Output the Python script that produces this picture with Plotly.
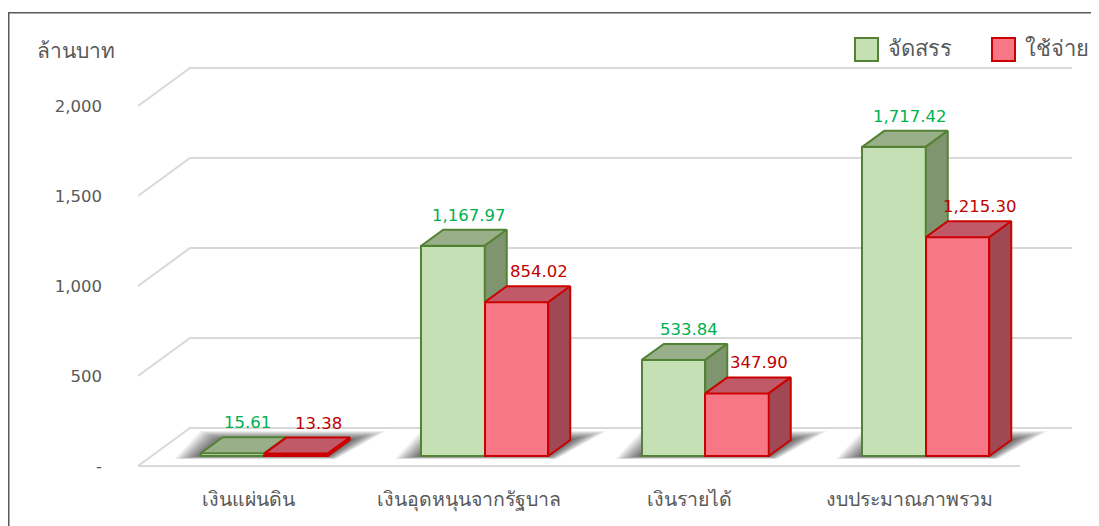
import plotly.graph_objects as go

# ---------------- data ----------------
categories = ["เงินแผ่นดิน", "เงินอุดหนุนจากรัฐบาล", "เงินรายได้", "งบประมาณภาพรวม"]
allocated = [15.61, 1167.97, 533.84, 1717.42]
spent = [13.38, 854.02, 347.90, 1215.30]
series_names = ["จัดสรร", "ใช้จ่าย"]
y_tickvals = [0, 500, 1000, 1500, 2000]
y_ticktext = ["-", "500", "1,000", "1,500", "2,000"]
y_title = "ล้านบาท"

# ---------------- style / projection ----------------
OFF = 8                       # page body margin: figure starts 8px in
W, H = 1099 - OFF, 526 - OFF  # figure size
ML, MT = 138 - OFF, 30 - OFF
MR, MB = 0, H - (480 - OFF)
PX_X = 220.5          # px per category slot
PX_Y = 0.18           # px per value unit
Y0_PX = 466 - OFF     # figure row of value 0 on the front plane
X_RANGE = [-0.5, -0.5 + (W - ML - MR) / PX_X]
Y_RANGE = [-(H - MB - Y0_PX) / PX_Y, (Y0_PX - MT) / PX_Y]

WALL_DX, WALL_DY = 52 / PX_X, 38 / PX_Y
FRONT_DX, FRONT_DY = 16 / PX_X, 10 / PX_Y
BAR_DX, BAR_DY = 22 / PX_X, 16 / PX_Y
BAR_W = 63.5 / PX_X

FONT = "Tahoma, 'DejaVu Sans', sans-serif"
NUMFONT = "'DejaVu Sans', Tahoma, sans-serif"
GRID = "#D9D9D9"
TXT = "#595959"
G_FRONT, G_TOP, G_SIDE, G_LINE, G_LABEL = "#C5E0B4", "#98AF89", "#7F9570", "#548235", "#00B050"
R_FRONT, R_TOP, R_SIDE, R_LINE, R_LABEL = "#F87787", "#C05A68", "#A04955", "#CC0000", "#C00000"

fig = go.Figure()
shapes = []
annotations = []

# ---- 3D walls: back-wall gridlines + left side-wall diagonals ----
x_left = X_RANGE[0]
x_front_right = len(categories) - 0.5
for t in y_tickvals:
    shapes.append(dict(type="path", xref="x", yref="y", layer="below",
                       path=f"M{x_left},{t} L{x_left + WALL_DX},{t + WALL_DY} L{x_front_right + WALL_DX},{t + WALL_DY}",
                       line=dict(color=GRID, width=2)))
shapes.append(dict(type="line", xref="x", yref="y", layer="below",
                   x0=x_left, y0=0, x1=x_front_right, y1=0,
                   line=dict(color=GRID, width=2)))

# ---- soft shadows on the floor under each bar pair ----
for i in range(len(categories)):
    xa = i + FRONT_DX - BAR_W
    xb = i + FRONT_DX + BAR_W
    yb = FRONT_DY
    steps = 10
    for k in range(steps):
        s = 1.0 - k / steps
        op = 0.07 + 0.02 * k / steps
        fl = xa - 26 * s / PX_X
        fr = xb + 8 * s / PX_X
        br = xb + BAR_DX + 36 * s / PX_X
        bl = xa + BAR_DX - 22 * s / PX_X
        y_front = yb - 3 * s / PX_Y
        y_back = yb + BAR_DY + 9 * s / PX_Y
        p = f"M{fl},{y_front} L{fr},{y_front} L{br},{y_back} L{bl},{y_back} Z"
        shapes.append(dict(type="path", xref="x", yref="y", layer="below", path=p,
                           fillcolor=f"rgba(0,0,0,{op:.3f})", line=dict(width=0)))

# ---- bar front faces ----
xpos = [i + FRONT_DX for i in range(len(categories))]
fig.add_trace(go.Bar(name=series_names[0], x=xpos, y=allocated, base=FRONT_DY,
                     width=BAR_W, offset=-BAR_W,
                     marker=dict(color=G_FRONT, line=dict(color=G_LINE, width=2)),
                     showlegend=False, hoverinfo="skip"))
fig.add_trace(go.Bar(name=series_names[1], x=xpos, y=spent, base=FRONT_DY,
                     width=BAR_W, offset=0,
                     marker=dict(color=R_FRONT, line=dict(color=R_LINE, width=2)),
                     showlegend=False, hoverinfo="skip"))


def poly(xs, ys, fill, line):
    fig.add_trace(go.Scatter(x=xs + [xs[0]], y=ys + [ys[0]], mode="lines", fill="toself",
                             fillcolor=fill, line=dict(color=line, width=2),
                             showlegend=False, hoverinfo="skip"))


for i in range(len(categories)):
    g, r = allocated[i], spent[i]
    x0 = xpos[i] - BAR_W
    x1 = xpos[i]
    x2 = xpos[i] + BAR_W
    gt = FRONT_DY + g
    rt = FRONT_DY + r
    poly([x0, x1, x1 + BAR_DX, x0 + BAR_DX], [gt, gt, gt + BAR_DY, gt + BAR_DY], G_TOP, G_LINE)
    vis = FRONT_DY + min(r, g)
    poly([x1, x1, x1 + BAR_DX, x1 + BAR_DX], [vis, gt, gt + BAR_DY, vis + BAR_DY], G_SIDE, G_LINE)
    poly([x1, x2, x2 + BAR_DX, x1 + BAR_DX], [rt, rt, rt + BAR_DY, rt + BAR_DY], R_TOP, R_LINE)
    poly([x2, x2, x2 + BAR_DX, x2 + BAR_DX], [FRONT_DY, rt, rt + BAR_DY, FRONT_DY + BAR_DY], R_SIDE, R_LINE)
    annotations.append(dict(x=(x0 + x1) / 2 + BAR_DX * 0.7, y=gt + BAR_DY, xref="x", yref="y",
                            text=f"{g:,.2f}", showarrow=False, yanchor="bottom", yshift=3,
                            font=dict(family=NUMFONT, size=16.5, color=G_LABEL)))
    annotations.append(dict(x=(x1 + x2) / 2 + BAR_DX, y=rt + BAR_DY, xref="x", yref="y",
                            text=f"{r:,.2f}", showarrow=False, yanchor="bottom", yshift=3,
                            font=dict(family=NUMFONT, size=16.5, color=R_LABEL)))


def paper_x(p):  # screenshot px -> paper
    return (p - OFF - ML) / (W - ML - MR)


def paper_y(p):
    return (H - MB - (p - OFF)) / (H - MT - MB)


# ---- legend (manual, large squares) ----
for name, fc, lc, sx in [(series_names[0], G_FRONT, G_LINE, 855),
                         (series_names[1], R_FRONT, R_LINE, 992)]:
    shapes.append(dict(type="rect", xref="paper", yref="paper",
                       x0=paper_x(sx), x1=paper_x(sx + 23), y0=paper_y(61), y1=paper_y(38),
                       fillcolor=fc, line=dict(color=lc, width=2)))
    annotations.append(dict(x=paper_x(sx + 31), y=paper_y(48), xref="paper", yref="paper",
                            text=name, showarrow=False, xanchor="left", yanchor="middle",
                            font=dict(family=FONT, size=22, color=TXT)))

annotations.append(dict(x=paper_x(35), y=paper_y(51), xref="paper", yref="paper",
                        text=y_title, showarrow=False, xanchor="left", yanchor="middle",
                        font=dict(family=FONT, size=21, color=TXT)))

# chart border
shapes.append(dict(type="rect", xref="paper", yref="paper",
                   x0=paper_x(8.75), x1=paper_x(1140), y0=paper_y(560), y1=paper_y(12.75),
                   line=dict(color="#595959", width=1.5), fillcolor="rgba(0,0,0,0)"))

fig.update_layout(
    width=W, height=H,
    margin=dict(l=ML, r=MR, t=MT, b=MB, autoexpand=False),
    paper_bgcolor="white", plot_bgcolor="white",
    barmode="overlay", bargap=0,
    shapes=shapes, annotations=annotations,
    showlegend=False,
    xaxis=dict(range=X_RANGE, showgrid=False, zeroline=False, showline=False, automargin=False,
               tickmode="array", tickvals=list(range(len(categories))), ticktext=categories,
               tickfont=dict(family=FONT, size=19.5, color=TXT), ticks="", ticklabelstandoff=5),
    yaxis=dict(range=Y_RANGE, showgrid=False, zeroline=False, showline=False, automargin=False,
               tickmode="array", tickvals=y_tickvals, ticktext=y_ticktext,
               tickfont=dict(family=NUMFONT, size=16.5, color=TXT), ticks="", ticklabelstandoff=35),
)

fig.write_html("out.html")
